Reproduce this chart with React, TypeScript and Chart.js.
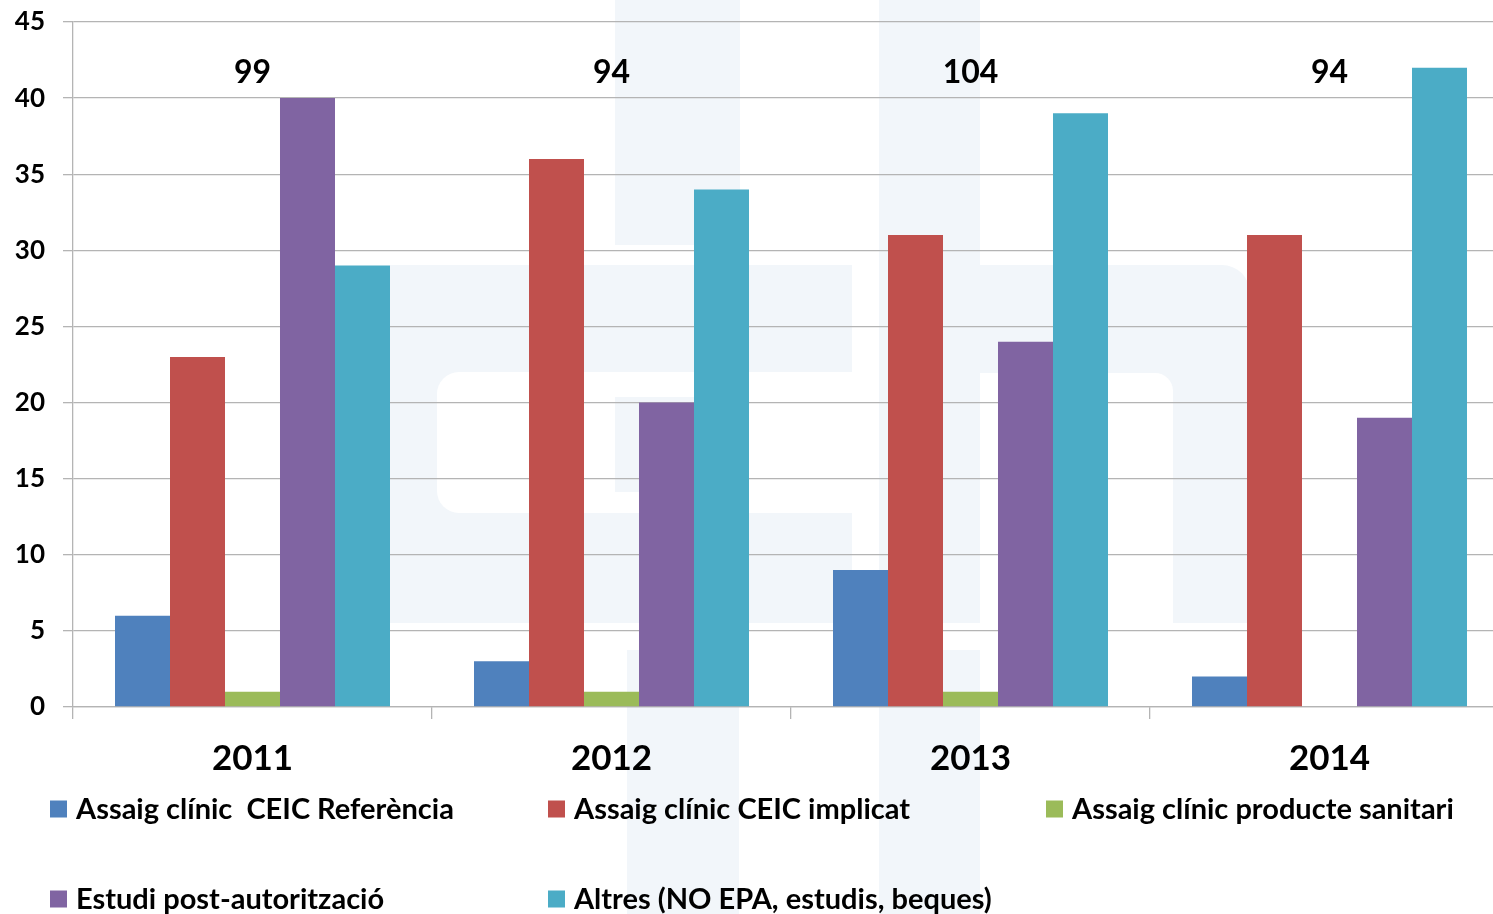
import React, { useEffect, useRef } from "react";
import { Chart, registerables } from "chart.js";

Chart.register(...registerables);

const YEARS = ["2011", "2012", "2013", "2014"];
const SERIES_LABELS = [
  "Assaig clínic  CEIC Referència",
  "Assaig clínic CEIC implicat",
  "Assaig clínic producte sanitari",
  "Estudi post-autorització",
  "Altres (NO EPA, estudis, beques)",
];
const REFERENCIA = [6, 3, 9, 2];
const IMPLICAT = [23, 36, 31, 31];
const PRODUCTE = [1, 1, 1, 0];
const POST_AUT = [40, 20, 24, 19];
const ALTRES = [29, 34, 39, 42];
const SERIES_VALUES = [REFERENCIA, IMPLICAT, PRODUCTE, POST_AUT, ALTRES];
const COLORS = ["#4f81bd", "#c0504d", "#9bbb59", "#8064a2", "#4bacc6"];
const Y_TICKS_MAX = 45;
const Y_STEP = 5;
const TOTAL_LABEL_LEVEL = 41.7;

const FONT = "Lato, 'Open Sans', sans-serif";
const GRID = "#b4b4b4";
const WM = "#f2f6fa";

const watermark = {
  id: "watermark",
  beforeDraw(chart: any) {
    const ctx = chart.ctx;
    ctx.save();
    ctx.fillStyle = "#ffffff";
    ctx.fillRect(0, 0, chart.width, chart.height);
    const rr = (x: number, y: number, w: number, h: number, r: number[], col: string) => {
      ctx.fillStyle = col;
      ctx.beginPath();
      ctx.roundRect(x, y, w, h, r);
      ctx.fill();
    };
    rr(615, 0, 125, 245, [0], WM);
    rr(879, 0, 101, 623, [0], WM);
    rr(390, 265, 462, 358, [0], WM);
    rr(437, 372, 430, 141, [22, 0, 0, 22], "#ffffff");
    rr(615, 397, 125, 95, [0], WM);
    rr(980, 265, 270, 358, [0, 28, 0, 0], WM);
    rr(980, 373, 193, 260, [0, 18, 0, 0], "#ffffff");
    rr(627, 650, 112, 264, [0], WM);
    rr(879, 650, 101, 264, [0], WM);
    ctx.restore();
  },
};

const totals = {
  id: "totals",
  afterDatasetsDraw(chart: any) {
    const ctx = chart.ctx;
    const xs = chart.scales.x;
    const ys = chart.scales.y;
    ctx.save();
    ctx.fillStyle = "#000";
    ctx.font = `bold 32px ${FONT}`;
    ctx.textAlign = "center";
    ctx.textBaseline = "middle";
    YEARS.forEach((_, i) => {
      const sum = chart.data.datasets.reduce((a: number, d: any) => a + d.data[i], 0);
      ctx.fillText(String(sum), xs.getPixelForValue(i), ys.getPixelForValue(TOTAL_LABEL_LEVEL));
    });
    ctx.restore();
  },
};

const gridLegend = {
  id: "gridLegend",
  afterDraw(chart: any) {
    const ctx = chart.ctx;
    ctx.save();
    ctx.font = `bold 29px ${FONT}`;
    ctx.textBaseline = "middle";
    ctx.textAlign = "left";
    chart.data.datasets.forEach((d: any, i: number) => {
      const col = i % 3;
      const row = Math.floor(i / 3);
      const x = 50 + col * 498;
      const y = 809 + row * 90;
      ctx.fillStyle = d.backgroundColor;
      ctx.fillRect(x, y - 8.5, 17, 17);
      ctx.fillStyle = "#000";
      ctx.fillText(d.label, x + 26, y + 1);
    });
    ctx.restore();
  },
};

export default function App() {
  const ref = useRef<HTMLCanvasElement>(null);
  useEffect(() => {
    if (!ref.current) return;
    const chart = new Chart(ref.current, {
      type: "bar",
      data: {
        labels: YEARS,
        datasets: SERIES_VALUES.map((vals, i) => ({
          label: SERIES_LABELS[i],
          data: vals,
          backgroundColor: COLORS[i],
          borderWidth: 0,
        })),
      },
      options: {
        responsive: false,
        animation: false,
        devicePixelRatio: 1,
        layout: { padding: { top: 22, right: 11, left: 0, bottom: 0 } },
        datasets: { bar: { categoryPercentage: 0.766, barPercentage: 1 } },
        plugins: { legend: { display: false }, tooltip: { enabled: false } },
        scales: {
          x: {
            grid: { drawOnChartArea: false, tickLength: 12, color: GRID, lineWidth: 1.3 },
            border: { color: GRID, width: 1.3 },
            ticks: { color: "#000", padding: 19, font: { family: FONT, size: 35, weight: "bold" } },
            afterFit: (s: any) => {
              s.height = 207;
              s.paddingLeft = 0;
              s.paddingRight = 0;
            },
          },
          y: {
            min: 0,
            max: Y_TICKS_MAX,
            ticks: { stepSize: Y_STEP, color: "#000", padding: 18, font: { family: FONT, size: 26, weight: "bold" } },
            grid: { color: GRID, tickLength: 10, lineWidth: 1.3 },
            border: { color: GRID, width: 1.3 },
            afterFit: (s: any) => {
              s.width = 73;
              s.paddingTop = 0;
              s.paddingBottom = 0;
            },
          },
        },
      } as any,
      plugins: [watermark, totals, gridLegend],
    });
    return () => chart.destroy();
  }, []);
  return (
    <div style={{ position: "absolute", left: 0, top: 0, width: 1493, height: 914, overflow: "hidden", background: "#fff" }}>
      <canvas ref={ref} width={1520} height={914} style={{ display: "block" }} />
    </div>
  );
}
